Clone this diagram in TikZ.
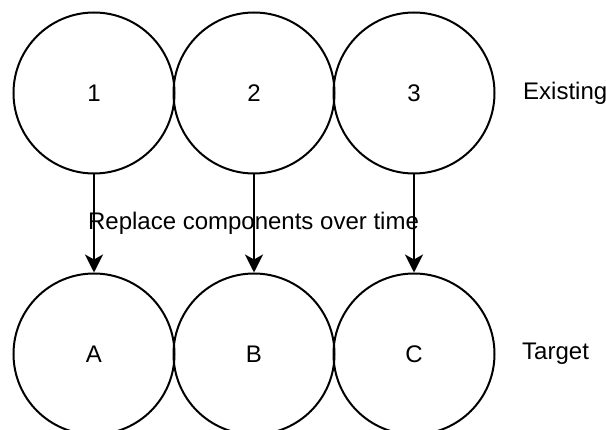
\documentclass[tikz,border=0pt]{standalone}
\usepackage{fontspec}
\setmainfont{Liberation Sans}
\usetikzlibrary{arrows.meta}
\begin{document}
\begin{tikzpicture}[x=1pt,y=-1pt,
  comp/.style={draw=black, line width=2pt, circle, minimum size=161pt, inner sep=0pt, font=\fontsize{24}{28}\selectfont},
  lbl/.style={inner sep=0pt, font=\fontsize{24}{28}\selectfont},
  arr/.style={line width=2pt, -{Stealth[length=18pt, width=18pt, inset=5pt]}}]
\useasboundingbox (0,0) rectangle (606,430);
\node[comp] (n1) at (94,93) {1};
\node[comp] (n2) at (254,93) {2};
\node[comp] (n3) at (414,93) {3};
\node[comp] (a) at (94,354) {A};
\node[comp] (b) at (254,354) {B};
\node[comp] (c) at (414,354) {C};
\draw[arr] (n1.south) -- (a.north);
\draw[arr] (n2.south) -- (b.north);
\draw[arr] (n3.south) -- (c.north);
\node[lbl, anchor=base] (rep) at (253.5,230) {Replace components over time};
\node[lbl, anchor=base west] (ex) at (523,100) {Existing};
\node[lbl, anchor=base west] (tg) at (522,360) {Target};
\end{tikzpicture}
\end{document}
